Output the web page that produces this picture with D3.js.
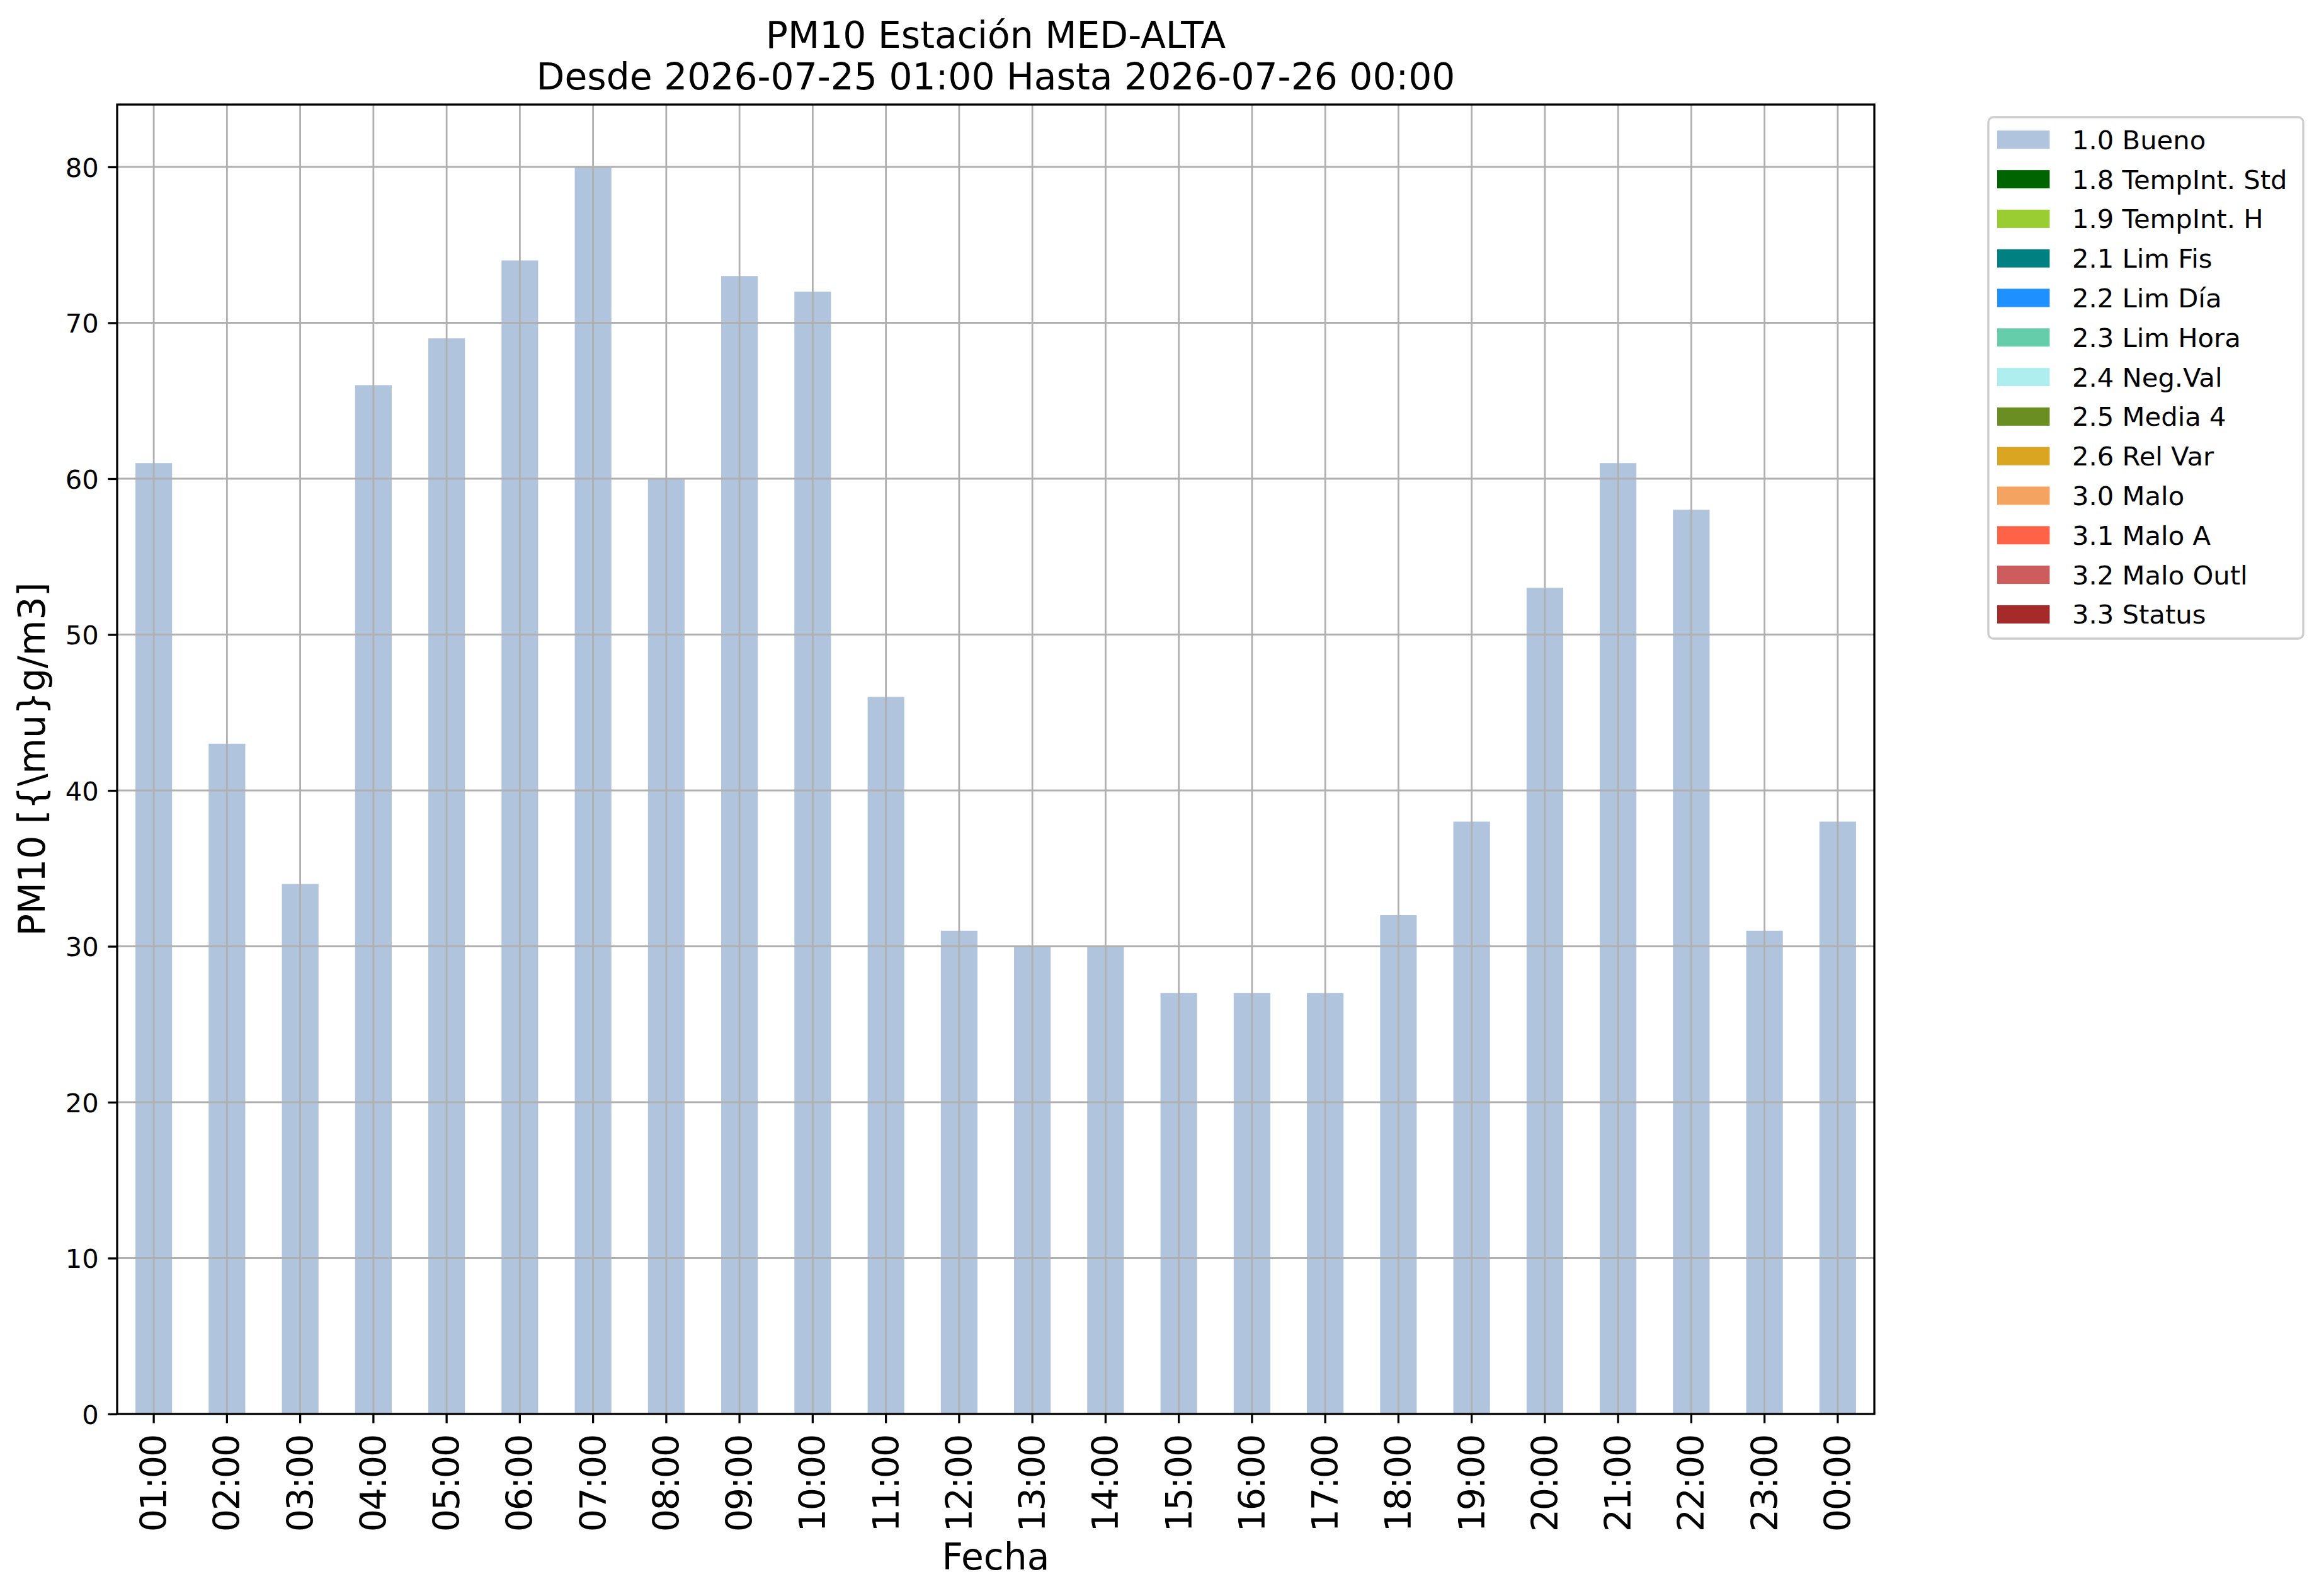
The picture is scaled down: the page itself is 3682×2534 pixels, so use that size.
<!DOCTYPE html>
<html>
<head>
<meta charset="utf-8">
<script src="https://cdn.jsdelivr.net/npm/d3@7"></script>
<style>
  body { margin: 0; background: #fff; }
  text { font-family: "DejaVu Sans", sans-serif; fill: #000; }
</style>
</head>
<body>
<div id="chart"></div>
<script>
// Horas (etiquetas del eje x)
var horas = ["01:00", "02:00", "03:00", "04:00", "05:00", "06:00", "07:00", "08:00",
             "09:00", "10:00", "11:00", "12:00", "13:00", "14:00", "15:00", "16:00",
             "17:00", "18:00", "19:00", "20:00", "21:00", "22:00", "23:00", "00:00"];

// Valores PM10 con flag 1.0 Bueno (los demás flags no tienen datos)
var bueno = [61, 43, 34, 66, 69, 74, 80, 60, 73, 72, 46, 31,
             30, 30, 27, 27, 27, 32, 38, 53, 61, 58, 31, 38];

// Categorías de la leyenda y sus colores
var categorias = ["1.0 Bueno", "1.8 TempInt. Std", "1.9 TempInt. H", "2.1 Lim Fis",
                  "2.2 Lim Día", "2.3 Lim Hora", "2.4 Neg.Val", "2.5 Media 4",
                  "2.6 Rel Var", "3.0 Malo", "3.1 Malo A", "3.2 Malo Outl", "3.3 Status"];
var colores = ["#b0c4de", "#006400", "#9acd32", "#008080", "#1e90ff", "#66cdaa",
               "#afeeee", "#6b8e23", "#daa520", "#f4a460", "#ff6347", "#cd5c5c", "#a52a2a"];

var yTicks = [0, 10, 20, 30, 40, 50, 60, 70, 80];

function createBarChart() {
  d3.select("#chart").select("svg").remove();

  var W = 3682, H = 2534;
  var margin = {top: 166, left: 186},
      width = 2976 - 186,
      height = 2245 - 166;

  var svg = d3.select("#chart")
    .append("svg")
      .attr("width", W)
      .attr("height", H);

  var g = svg.append("g")
    .attr("transform", "translate(" + margin.left + "," + margin.top + ")");

  // Escalas
  var x = d3.scaleBand()
    .domain(horas)
    .range([0, width])
    .paddingInner(0.5)
    .paddingOuter(0.25);

  var y = d3.scaleLinear()
    .domain([0, 84])
    .range([height, 0]);

  // Barras apiladas (solo la serie Bueno tiene valores)
  var filas = horas.map(function (h, i) {
    var o = {hora: h};
    categorias.forEach(function (c) { o[c] = 0; });
    o[categorias[0]] = bueno[i];
    return o;
  });
  var series = d3.stack().keys(categorias)(filas);

  g.append("g")
    .selectAll("g")
    .data(series)
    .enter()
    .append("g")
      .attr("fill", function (d, i) { return colores[i]; })
    .selectAll("rect")
    .data(function (d) { return d.filter(function (p) { return p[1] > p[0]; }); })
    .enter()
    .append("rect")
      .attr("x", function (d) { return x(d.data.hora); })
      .attr("y", function (d) { return y(d[1]); })
      .attr("width", x.bandwidth())
      .attr("height", function (d) { return y(d[0]) - y(d[1]); });

  // Rejilla (encima de las barras)
  var grid = g.append("g").attr("stroke", "#b0b0b0").attr("stroke-width", 2.8);
  grid.selectAll("line.v")
    .data(horas)
    .enter()
    .append("line")
      .attr("class", "v")
      .attr("x1", function (d) { return x(d) + x.bandwidth() / 2; })
      .attr("x2", function (d) { return x(d) + x.bandwidth() / 2; })
      .attr("y1", 0)
      .attr("y2", height);
  grid.selectAll("line.h")
    .data(yTicks)
    .enter()
    .append("line")
      .attr("class", "h")
      .attr("x1", 0)
      .attr("x2", width)
      .attr("y1", function (d) { return y(d); })
      .attr("y2", function (d) { return y(d); });

  // Eje X
  var xAxis = g.append("g")
    .attr("transform", "translate(0," + height + ")")
    .call(d3.axisBottom(x).tickSize(14.6).tickPadding(14.6));
  xAxis.select(".domain").remove();
  xAxis.selectAll("line").attr("stroke", "#000").attr("stroke-width", 3.3);
  xAxis.selectAll("text")
    .attr("font-size", 57)
    .attr("letter-spacing", -2.2)
    .attr("font-family", "DejaVu Sans")
    .attr("text-anchor", "end")
    .attr("dy", null)
    .attr("dominant-baseline", "central")
    .attr("transform", "translate(0,34) rotate(-90)")
    .attr("x", 0)
    .attr("y", 0);

  // Eje Y
  var yAxis = g.append("g")
    .call(d3.axisLeft(y).tickValues(yTicks).tickSize(14.6).tickPadding(14.6));
  yAxis.select(".domain").remove();
  yAxis.selectAll("line").attr("stroke", "#000").attr("stroke-width", 3.3);
  yAxis.selectAll("text")
    .attr("font-size", 41.7)
    .attr("font-family", "DejaVu Sans")
    .attr("dy", "0.36em");

  // Marco de los ejes
  g.append("rect")
    .attr("x", 0)
    .attr("y", 0)
    .attr("width", width)
    .attr("height", height)
    .attr("fill", "none")
    .attr("stroke", "#000")
    .attr("stroke-width", 3.3);

  // Títulos
  var cx = margin.left + width / 2;
  svg.append("text")
    .attr("x", cx).attr("y", 76)
    .attr("text-anchor", "middle")
    .attr("font-size", 58.3)
    .text("PM10 Estación MED-ALTA");
  svg.append("text")
    .attr("x", cx).attr("y", 142)
    .attr("text-anchor", "middle")
    .attr("font-size", 58.3)
    .text("Desde 2026-07-25 01:00 Hasta 2026-07-26 00:00");

  svg.append("text")
    .attr("x", cx).attr("y", 2492)
    .attr("text-anchor", "middle")
    .attr("font-size", 58.3)
    .text("Fecha");

  svg.append("text")
    .attr("transform", "translate(71," + (margin.top + height / 2) + ") rotate(-90)")
    .attr("text-anchor", "middle")
    .attr("font-size", 58.3)
    .text("PM10 [{\\mu}g/m3]");

  // Leyenda
  var leg = svg.append("g");
  leg.append("rect")
    .attr("x", 3157).attr("y", 186)
    .attr("width", 500).attr("height", 828)
    .attr("rx", 8).attr("ry", 8)
    .attr("fill", "#fff")
    .attr("fill-opacity", 0.8)
    .attr("stroke", "#cccccc")
    .attr("stroke-width", 3.3);

  var filasLeg = leg.selectAll("g.item")
    .data(categorias)
    .enter()
    .append("g")
      .attr("class", "item")
      .attr("transform", function (d, i) { return "translate(0," + (221.8 + i * 62.8) + ")"; });
  filasLeg.append("rect")
    .attr("x", 3171).attr("y", -14.5)
    .attr("width", 83.4).attr("height", 29)
    .attr("fill", function (d, i) { return colores[i]; });
  filasLeg.append("text")
    .attr("x", 3290).attr("y", 15)
    .attr("font-size", 41.7)
    .text(function (d) { return d; });
}

document.addEventListener("DOMContentLoaded", function () {
  createBarChart();
});
</script>
</body>
</html>
